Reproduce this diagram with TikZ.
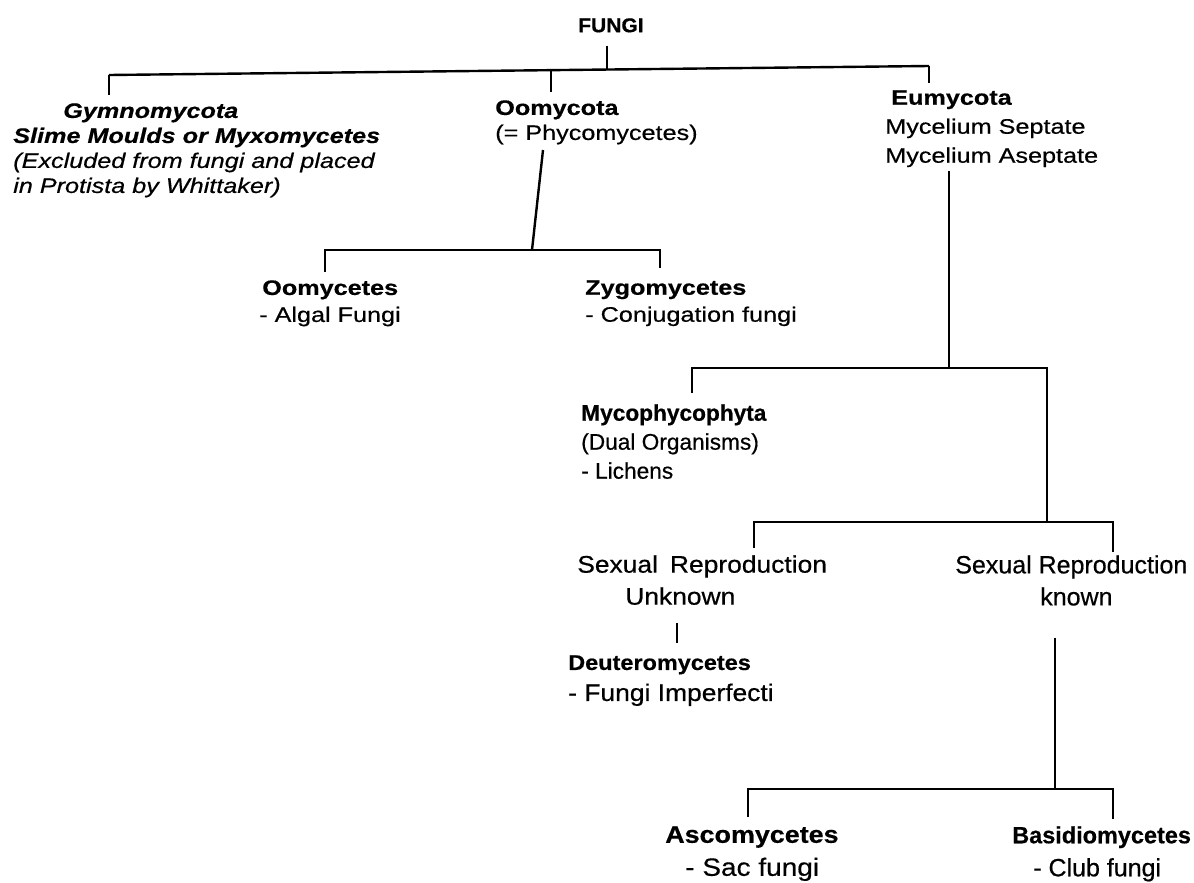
\documentclass[tikz,border=0pt]{standalone}
\usepackage{fontspec}
\setmainfont[FakeBold=0.5]{Liberation Sans}
\newfontfamily\ffungi[FakeStretch=1.05,FakeBold=0.6]{Liberation Sans}
\newfontfamily\ftop[FakeStretch=1.2,FakeBold=0.5]{Liberation Sans}
\newfontfamily\fmid[FakeBold=0.5]{Liberation Sans}
\newfontfamily\flow[FakeBold=0.5]{Liberation Sans}
\newfontfamily\flowl[FakeStretch=1.1,FakeBold=0.5]{Liberation Sans}
\newfontfamily\fasc[FakeStretch=1.12,FakeBold=0.5]{Liberation Sans}
\begin{document}
\begin{tikzpicture}[x=0.75pt,y=-0.75pt,
  txt/.style={inner sep=0pt, anchor=north west, align=left},
  topfont/.style={font=\ftop\fontsize{15.75}{#1}\selectfont},
  midfont/.style={font=\fmid\fontsize{17}{#1}\selectfont},
  lowfont/.style={font=\flow\fontsize{18.75}{#1}\selectfont},
  lowlfont/.style={font=\flowl\fontsize{18}{#1}\selectfont},
  ascfont/.style={font=\fasc\fontsize{18}{#1}\selectfont},
  conn/.style={line width=1.8pt, line cap=butt, line join=miter}]
\fill[white] (0,0) rectangle (1194,882);
\useasboundingbox (0,0) rectangle (1194,882);

% ---------- nodes ----------
\node[txt, font=\ffungi\bfseries\fontsize{15}{17}\selectfont] (fungi) at (578,18) {FUNGI};

\node[txt, font=\ftop\itshape\fontsize{15.75}{18.75}\selectfont] (gymno) at (13,103)
  {\hspace*{37.5pt}\textbf{Gymnomycota}\\\textbf{Slime Moulds or Myxomycetes}\\(Excluded from fungi and placed\\in Protista by Whittaker)};

\node[txt, topfont=18.75pt] (oomycota) at (495,100)
  {\textbf{Oomycota}\\(= Phycomycetes)};

\node[txt, topfont=21.75pt] (eumycota) at (885,90)
  {\hspace*{4.5pt}\textbf{Eumycota}\\Mycelium Septate\\Mycelium Aseptate};

\node[txt, topfont=20.25pt] (oomycetes) at (259,280)
  {\hspace*{2.25pt}\textbf{Oomycetes}\\- Algal Fungi};

\node[txt, topfont=20.25pt] (zygo) at (585,280)
  {\textbf{Zygomycetes}\\- Conjugation fungi};

\node[txt, midfont=21.75pt] (myco) at (581,404)
  {\textbf{Mycophycophyta}\\(Dual Organisms)\\- Lichens};

\node[txt, lowlfont=24pt] (sexu) at (577,555)
  {Sexual\hspace{0.5em}Reproduction\\\hspace*{36pt}Unknown};

\node[txt, lowfont=24pt] (sexk) at (955,555)
  {Sexual Reproduction\\\hspace*{63.75pt}known};

\node[txt, lowlfont=23.25pt] (deut) at (568,655)
  {{\bfseries\fontsize{16}{23.25}\selectfont Deuteromycetes}\\- Fungi Imperfecti};

\node[txt, ascfont=24.75pt] (asco) at (665,826)
  {\textbf{Ascomycetes}\\\hspace*{15pt}{\fontsize{18.75}{24.75}\selectfont - Sac fungi}};

\node[txt, lowfont=24.75pt] (basi) at (1012,826)
  {{\bfseries\fontsize{17.6}{24.75}\selectfont Basidiomycetes}\\\hspace*{15.75pt}- Club fungi};

% ---------- junction coordinates ----------
\coordinate (j0) at (109,75);
\coordinate (j1) at (551,71);
\coordinate (j2) at (607,70);
\coordinate (j3) at (929,66);
\coordinate (oomfoot) at (543,150);
\coordinate (k0) at (532,250);
\coordinate (kL) at (325,250);
\coordinate (kR) at (660,250);
\coordinate (m0) at (949,368);
\coordinate (mL) at (692,368);
\coordinate (mR) at (1047,368);
\coordinate (n0) at (1047,522);
\coordinate (nL) at (754,522);
\coordinate (nR) at (1113,522);
\coordinate (ux) at (677,630);
\coordinate (p0) at (1055,789);
\coordinate (pL) at (748,789);
\coordinate (pR) at (1113,789);

% ---------- connectors ----------
\draw[conn] (j0) -- (j3);
\draw[conn, shorten <=9.75pt] (fungi.south -| j2) -- (j2);
\draw[conn, shorten >=6pt] (j0) -- (j0 |- gymno.north);
\draw[conn, shorten >=6pt] (j1) -- (j1 |- oomycota.north);
\draw[conn, shorten >=5pt] (j3) -- (j3 |- eumycota.north);

\draw[conn] (oomfoot) -- (k0);
\draw[conn, shorten <=6pt, shorten >=9pt] (kL |- oomycetes.north) -- (kL) -- (kR) -- (kR |- zygo.north);

\draw[conn, shorten <=3pt] (m0 |- eumycota.south) -- (m0);
\draw[conn, shorten <=8pt] (mL |- myco.north) -- (mL) -- (mR) -- (n0);

\draw[conn, shorten <=5.25pt, shorten >=2.25pt] (nL |- sexu.north) -- (nL) -- (nR) -- (nR |- sexk.north);

\draw[conn, shorten <=13pt, shorten >=9pt] (ux |- sexu.south) -- (ux |- deut.north);

\draw[conn, shorten <=24pt] (p0 |- sexk.south) -- (p0);
\draw[conn, shorten <=7pt, shorten >=5pt] (pL |- asco.north) -- (pL) -- (pR) -- (pR |- basi.north);
\end{tikzpicture}
\end{document}
